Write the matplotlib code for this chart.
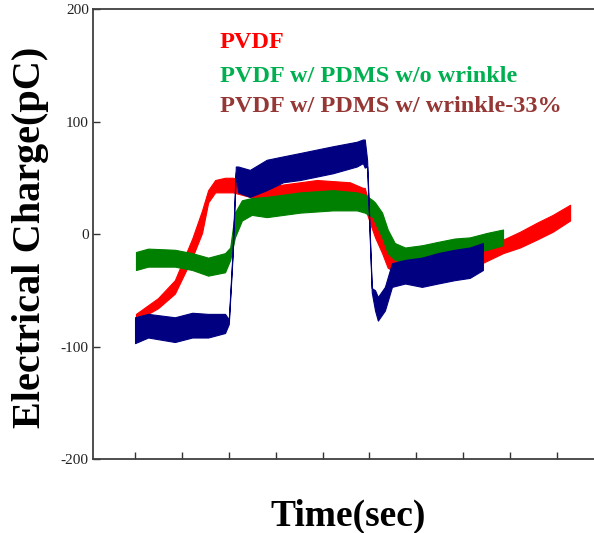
import matplotlib
matplotlib.use('Agg')
import matplotlib.pyplot as plt
import numpy as np

# time axis has ticks but no labels, so time is kept in "tick units" (1..10)
# each series is read off the picture as the band of its fast oscillation:
# time, lower edge, upper edge (pC)
t_pvdf = [1.02, 1.49, 1.85, 2.22, 2.43, 2.56, 2.71, 2.92, 3.09, 3.45, 3.67, 4.16,
          4.88, 5.58, 5.86, 5.90, 6.01, 6.12, 6.27, 6.39, 6.61, 7.12, 7.46, 7.82,
          8.40, 8.85, 9.21, 9.57, 9.91, 10.28]
lo_pvdf = [-77, -66, -53, -21, 1, 28, 37, 37, 37, 33, 29, 32,
           35, 33, 28, 24, 10, -3, -17, -30, -35, -38, -38, -35,
           -26, -17, -12, -5, 2, 12]
hi_pvdf = [-71, -57, -41, -4, 21, 39, 48, 50, 50, 44, 41, 44,
           48, 46, 41, 41, 24, 12, -3, -14, -23, -26, -23, -21,
           -14, -5, 2, 10, 17, 26]

t_flat = [1.02, 1.28, 1.85, 2.22, 2.56, 2.92, 3.03, 3.13, 3.28, 3.49, 3.81, 4.52,
          5.22, 5.73, 5.90, 6.07, 6.12, 6.27, 6.39, 6.54, 6.76, 7.12, 7.46, 7.82,
          8.14, 8.51, 8.85]
lo_flat = [-32, -29, -29, -32, -37, -34, -23, -3, 12, 17, 15, 19,
           21, 21, 19, 15, 10, -3, -17, -23, -25, -25, -21, -19,
           -17, -14, -10]
hi_flat = [-16, -13, -14, -17, -21, -17, -12, 19, 30, 32, 33, 37,
           39, 37, 35, 30, 28, 19, 4, -8, -12, -10, -7, -4,
           -3, 1, 4]

t_wrinkle = [1.00, 1.28, 1.85, 2.22, 2.56, 2.92, 3.00, 3.08, 3.15, 3.20, 3.45, 3.81,
             4.16, 4.52, 5.22, 5.73, 5.86, 5.90, 5.95, 6.05, 6.12, 6.18, 6.33, 6.48,
             6.76, 7.12, 7.46, 7.82, 8.14, 8.42]
lo_wrinkle = [-97, -92, -96, -92, -92, -88, -80, -20, 55, 37, 33, 39,
              46, 48, 54, 60, 63, 59, 60, -52, -68, -77, -68, -47,
              -44, -47, -44, -41, -39, -32]
hi_wrinkle = [-74, -71, -74, -70, -71, -71, -76, -16, 60, 60, 57, 66,
              69, 72, 78, 82, 84, 84, 66, -48, -50, -56, -47, -26,
              -23, -21, -17, -14, -12, -8]

labels = ['PVDF', 'PVDF w/ PDMS w/o wrinkle', 'PVDF w/ PDMS w/ wrinkle-33%']
label_colors = ['#FF0000', '#00B050', '#953735']
line_colors = ['#FF0000', '#008000', '#000080']

x_ticks = np.arange(1, 11)
y_ticks = [-200, -100, 0, 100, 200]

plt.rcParams['font.family'] = ['Liberation Serif', 'DejaVu Serif']
plt.rcParams['axes.unicode_minus'] = False  # plain hyphen like "-100"

fig = plt.figure(figsize=(5.94, 5.33), dpi=100)
ax = fig.add_axes([0.1566, 0.1388, 0.8434, 0.8443])

series = [(t_pvdf, lo_pvdf, hi_pvdf),
          (t_flat, lo_flat, hi_flat),
          (t_wrinkle, lo_wrinkle, hi_wrinkle)]
for (t, lo, hi), c in zip(series, line_colors):
    ax.fill_between(t, lo, hi, color=c, lw=0.8)

ax.set_xlim(0.104, 10.79)
ax.set_ylim(-200, 200)
ax.set_xticks(x_ticks)
ax.set_xticklabels([])
ax.set_yticks(y_ticks)
ax.tick_params(direction='in', length=5, width=1, color='#333333',
               labelsize=11, labelcolor='#222222', pad=3)

ax.spines['right'].set_visible(False)
for s in ['left', 'bottom', 'top']:
    ax.spines[s].set_color('#404040')
    ax.spines[s].set_linewidth(1.3)

ax.set_xlabel('Time(sec)', fontsize=27, fontweight='bold')
ax.xaxis.set_label_coords(0.509, -0.089)
ax.set_ylabel('Electrical Charge(pC)', fontsize=29, fontweight='bold')
ax.yaxis.label.set_verticalalignment('center')
ax.yaxis.set_label_coords(-0.125, 0.493)

# coloured text used as the legend
for lab, c, yy in zip(labels, label_colors, [0.913, 0.838, 0.771]):
    ax.text(0.2535, yy, lab, color=c, fontsize=17.5, fontweight='bold',
            transform=ax.transAxes, va='baseline', ha='left')

fig.savefig('out.png', dpi=100)
